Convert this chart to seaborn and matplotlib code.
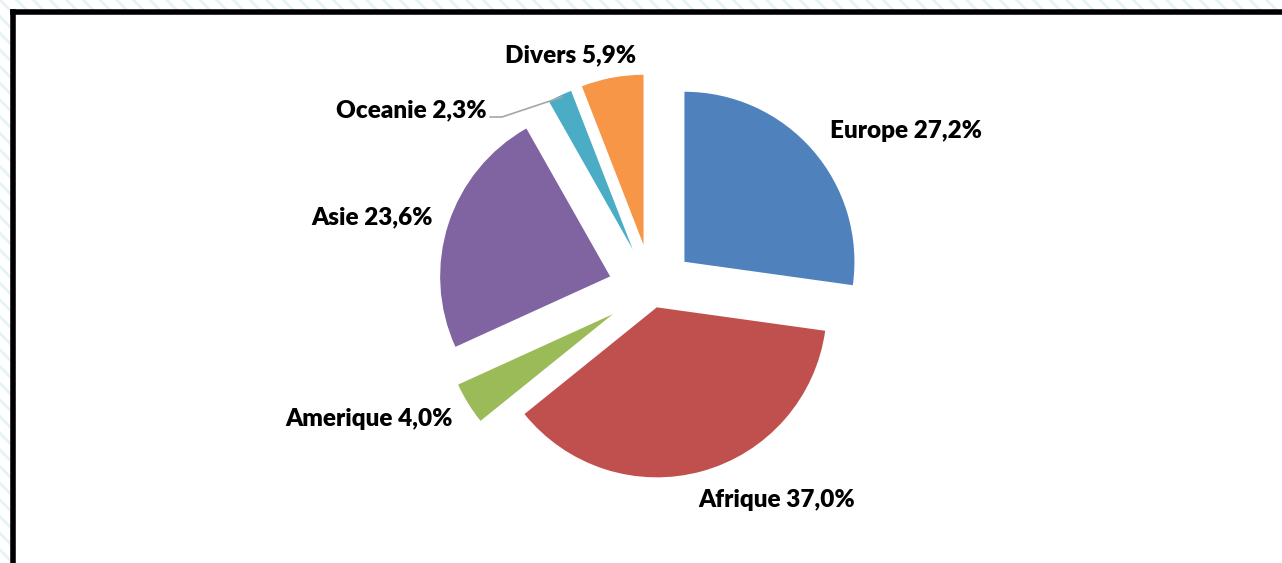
import matplotlib
matplotlib.use('Agg')
import matplotlib.pyplot as plt
import seaborn as sns
from matplotlib.lines import Line2D
from matplotlib.patches import Rectangle

sns.set_theme(style='white')
plt.rcParams['font.family'] = ['Lato', 'DejaVu Sans']
plt.rcParams['hatch.color'] = '#e6f2f7'
plt.rcParams['hatch.linewidth'] = 2.0

# Data
continents = ['Europe', 'Afrique', 'Amerique', 'Asie', 'Oceanie', 'Divers']
shares = [27.2, 37.0, 4.0, 23.6, 2.3, 5.9]
pct_labels = ['27,2%', '37,0%', '4,0%', '23,6%', '2,3%', '5,9%']
colors = ['#4F81BD', '#C0504D', '#9BBB59', '#8064A2', '#4BACC6', '#F79646']

W, H = 1282, 563
fig = plt.figure(figsize=(W / 100, H / 100), dpi=100)
fig.patch.set_facecolor('white')

# faint hatched background outside the frame
bg = Rectangle((0, 0), 1, 1, transform=fig.transFigure, facecolor='white',
               edgecolor='#e6f2f7', hatch='\\\\', linewidth=0, zorder=-10)
fig.add_artist(bg)
inner = Rectangle((13 / W, 0), 1, 1 - 12 / H, transform=fig.transFigure,
                  facecolor='white', edgecolor='none', zorder=-5)
fig.add_artist(inner)

ax = fig.add_axes([0, 0, 1, 1])
ax.set_xlim(0, W)
ax.set_ylim(0, H)
ax.set_aspect('equal')
ax.axis('off')

# pie in pixel coordinates, exploded slices (Afrique pulled out less)
explode = [43, 18, 46, 44, 45, 46]
ax.pie(shares, colors=colors, startangle=90, counterclock=False,
       center=(652, H - 290), radius=170, explode=explode,
       wedgeprops=dict(linewidth=0))
ax.set_xlim(0, W)
ax.set_ylim(0, H)

label_pos = {
    'Europe': (906, 131),
    'Afrique': (777, 500),
    'Amerique': (369, 419),
    'Asie': (372, 217),
    'Oceanie': (411, 110),
    'Divers': (571, 55),
}
for name, pct in zip(continents, pct_labels):
    x, y = label_pos[name]
    ax.text(x, H - y, f'{name} {pct}', ha='center', va='center',
            fontsize=17.5, fontweight='heavy', color='black')

# leader line for Oceanie
ax.plot([490, 502, 562], [H - 117, H - 117, H - 97], color='#a6a6a6', lw=1.2)

# thick frame on top and left
fig.add_artist(Line2D([13 / W, 1], [1 - 12 / H, 1 - 12 / H], color='black',
                      lw=4, solid_capstyle='projecting',
                      transform=fig.transFigure))
fig.add_artist(Line2D([13 / W, 13 / W], [0, 1 - 12 / H], color='black',
                      lw=4, solid_capstyle='projecting',
                      transform=fig.transFigure))

fig.savefig('out.png', dpi=100)
